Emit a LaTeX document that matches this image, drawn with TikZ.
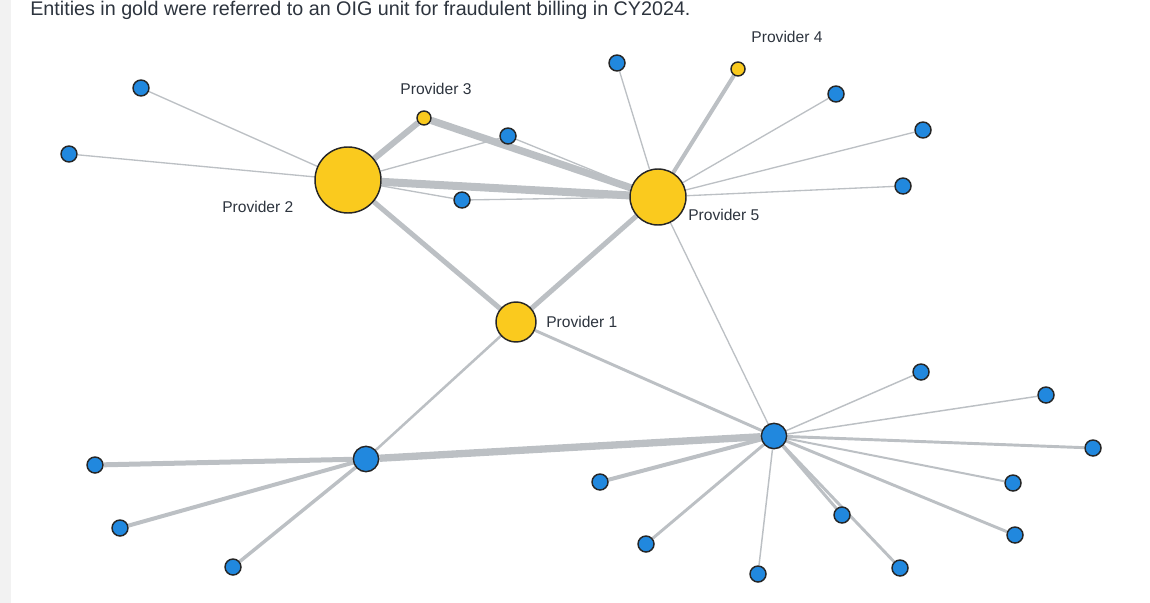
\documentclass[tikz,border=0pt]{standalone}
\usepackage{fontspec}
\setmainfont{Liberation Sans}
\usetikzlibrary{backgrounds}
\definecolor{goldfill}{RGB}{250,202,30}
\definecolor{bluefill}{RGB}{33,136,222}
\definecolor{edgegray}{RGB}{188,192,196}
\definecolor{inkgray}{RGB}{45,52,62}
\definecolor{sidegray}{RGB}{242,242,242}
\tikzset{
    ent/.style={circle, draw=black!85, line width=1.1pt, inner sep=0pt},
    flagged/.style={ent, fill=goldfill, minimum size=#1},
    plain/.style={ent, fill=bluefill, minimum size=#1},
    plain/.default=12pt,
    link/.style={draw=edgegray, line width=#1},
    link/.default=1pt,
    lbl/.style={text=inkgray, font=\fontsize{11.7}{13}\selectfont, inner sep=0pt},
}

\begin{document}
\begin{tikzpicture}[x=0.75pt,y=-0.75pt]
        \useasboundingbox (0,0) rectangle (1150,603);
        \fill[sidegray] (0,0) rectangle (11,603);
        \node[text=inkgray, font=\fontsize{14.8}{16}\selectfont, anchor=base west, inner sep=0pt] (title) at (30,16) {Entities in gold were referred to an OIG unit for fraudulent billing in CY2024.};
        % providers
        \node[flagged=49.5pt] (prov2) at (348,180) {};
        \node[flagged=10.5pt] (prov3) at (424,118) {};
        \node[flagged=42pt] (prov5) at (658,197) {};
        \node[flagged=10.5pt] (prov4) at (738,69) {};
        \node[flagged=30pt] (prov1) at (516,322) {};
        \node[lbl, anchor=west] (lab2) at (222,207) {Provider 2};
        \node[lbl] (lab3) at (436,89) {Provider 3};
        \node[lbl] (lab4) at (787,37) {Provider 4};
        \node[lbl, anchor=west] (lab5) at (688,215) {Provider 5};
        \node[lbl, anchor=west] (lab1) at (546,322) {Provider 1};
        % other entities, top
        \node[plain] (t1) at (141,88) {};
        \node[plain] (t2) at (69,154) {};
        \node[plain] (t3) at (508,136) {};
        \node[plain] (t4) at (462,200) {};
        \node[plain] (t5) at (617,63) {};
        \node[plain] (t6) at (836,94) {};
        \node[plain] (t7) at (923,130) {};
        \node[plain] (t8) at (903,186) {};
        % hubs
        \node[plain=19pt] (hubA) at (366,459) {};
        \node[plain=19pt] (hubB) at (774,436) {};
        \node[plain] (a1) at (95,465) {};
        \node[plain] (a2) at (120,528) {};
        \node[plain] (a3) at (233,567) {};
        \node[plain] (b1) at (600,482) {};
        \node[plain] (b2) at (646,544) {};
        \node[plain] (b3) at (758,574) {};
        \node[plain] (b4) at (842,515) {};
        \node[plain] (b5) at (900,568) {};
        \node[plain] (b6) at (1015,535) {};
        \node[plain] (b7) at (1013,483) {};
        \node[plain] (b8) at (1093,448) {};
        \node[plain] (b9) at (1046,395) {};
        \node[plain] (b10) at (921,372) {};
        \begin{pgfonlayer}{background}
        \path[link] (prov2) -- (t1);
        \path[link] (prov2) -- (t2);
        \path[link] (prov2) -- (t3);
        \path[link] (prov2) -- (t4);
        \path[link] (t3) -- (prov5);
        \path[link] (t4) -- (prov5);
        \path[link=4.5pt] (prov2) -- (prov3);
        \path[link=6pt] (prov2) -- (prov5);
        \path[link=5.5pt] (prov3) -- (prov5);
        \path[link=3.75pt] (prov2) -- (prov1);
        \path[link=3.75pt] (prov5) -- (prov1);
        \path[link=3pt] (prov5) -- (prov4);
        \path[link] (prov5) -- (t5);
        \path[link] (prov5) -- (t6);
        \path[link] (prov5) -- (t7);
        \path[link] (prov5) -- (t8);
        \path[link] (prov5) -- (hubB);
        \path[link=2.2pt] (prov1) -- (hubB);
        \path[link=1.9pt] (prov1) -- (hubA);
        \path[link=5.5pt] (hubA) -- (hubB);
        \path[link=3.75pt] (hubA) -- (a1);
        \path[link=3pt] (hubA) -- (a2);
        \path[link=2.6pt] (hubA) -- (a3);
        \path[link=3pt] (hubB) -- (b1);
        \path[link=2.2pt] (hubB) -- (b2);
        \path[link=1.1pt] (hubB) -- (b3);
        \path[link=2.2pt] (hubB) -- (b4);
        \path[link=2.2pt] (hubB) -- (b5);
        \path[link=2.2pt] (hubB) -- (b6);
        \path[link=1.5pt] (hubB) -- (b7);
        \path[link=2.2pt] (hubB) -- (b8);
        \path[link=1.1pt] (hubB) -- (b9);
        \path[link=1.1pt] (hubB) -- (b10);
        \end{pgfonlayer}
    \end{tikzpicture}
\end{document}
